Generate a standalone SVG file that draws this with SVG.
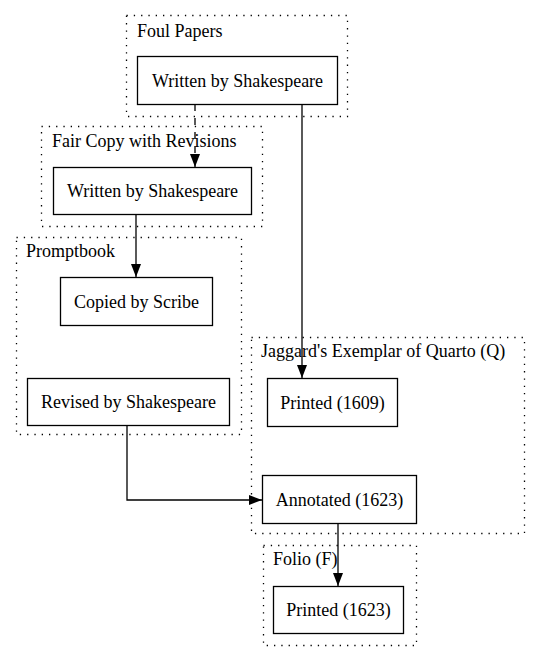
<svg xmlns="http://www.w3.org/2000/svg" width="540" height="661" viewBox="0 0 540 661">
<style>
  text { font-family: "Liberation Serif", "Times New Roman", serif; font-size: 18px; fill: #000; }
  .cluster { fill: none; stroke: #000; stroke-width: 1.3; stroke-dasharray: 1.3 6; }
  .node rect { fill: #fff; stroke: #000; stroke-width: 1.3; }
  .node text { text-anchor: middle; }
  .edge { fill: none; stroke: #000; stroke-width: 1.3; }
  .dashed { stroke-dasharray: 7 7; }
</style>
<defs>
  <marker id="arrow" viewBox="0 0 13 10" refX="13" refY="5" markerWidth="13" markerHeight="10" markerUnits="userSpaceOnUse" orient="auto">
    <path d="M0,0 L13,5 L0,10 Z" fill="#000"/>
  </marker>
</defs>
<rect width="540" height="661" fill="#fff"/>

<g id="cluster-foul">
  <rect class="cluster" x="126.5" y="15.5" width="221" height="101"/>
  <text x="137" y="37">Foul Papers</text>
</g>
<g id="cluster-fair">
  <rect class="cluster" x="41.5" y="126.5" width="221" height="100"/>
  <text x="52" y="147">Fair Copy with Revisions</text>
</g>
<g id="cluster-prompt">
  <rect class="cluster" x="16.5" y="237.5" width="225" height="197"/>
  <text x="26" y="257">Promptbook</text>
</g>
<g id="cluster-jaggard">
  <rect class="cluster" x="251.5" y="337.5" width="273" height="196"/>
  <text x="261" y="357">Jaggard's Exemplar of Quarto (Q)</text>
</g>
<g id="cluster-folio">
  <rect class="cluster" x="263.5" y="545.5" width="153" height="100"/>
  <text x="273" y="565">Folio (F)</text>
</g>

<g id="connectors">
  <path class="edge dashed" d="M195,104 L195,167" marker-end="url(#arrow)"/>
  <path class="edge" d="M302,104 L302,378" marker-end="url(#arrow)"/>
  <path class="edge" d="M136,214 L136,277" marker-end="url(#arrow)"/>
  <path class="edge" d="M127,425 L127,500 L262,500" marker-end="url(#arrow)"/>
  <path class="edge" d="M338,523 L338,586" marker-end="url(#arrow)"/>
</g>

<g id="node-foul" class="node">
  <rect x="137.5" y="56.5" width="200" height="48"/>
  <text x="237.5" y="86.5">Written by Shakespeare</text>
</g>
<g id="node-fair" class="node">
  <rect x="53.5" y="167.5" width="198" height="47"/>
  <text x="152.5" y="197">Written by Shakespeare</text>
</g>
<g id="node-scribe" class="node">
  <rect x="60.5" y="277.5" width="152" height="48"/>
  <text x="136.5" y="307.5">Copied by Scribe</text>
</g>
<g id="node-revised" class="node">
  <rect x="27.5" y="378.5" width="202" height="47"/>
  <text x="128.5" y="408">Revised by Shakespeare</text>
</g>
<g id="node-printed1609" class="node">
  <rect x="267.5" y="378.5" width="130" height="48"/>
  <text x="332.5" y="408.5">Printed (1609)</text>
</g>
<g id="node-annotated" class="node">
  <rect x="262.5" y="475.5" width="154" height="48"/>
  <text x="339.5" y="505.5">Annotated (1623)</text>
</g>
<g id="node-printed1623" class="node">
  <rect x="273.5" y="586.5" width="130" height="47"/>
  <text x="338.5" y="616">Printed (1623)</text>
</g>
</svg>
